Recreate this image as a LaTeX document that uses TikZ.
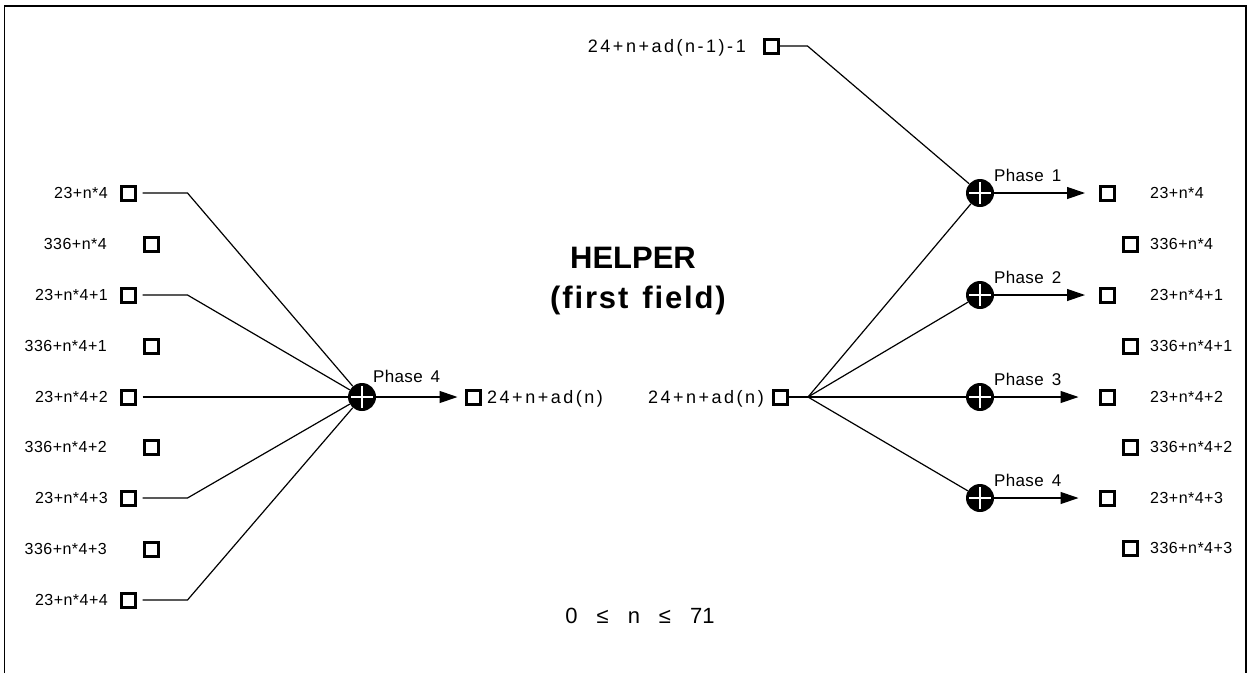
\documentclass[tikz,border=0pt]{standalone}
\usepackage{fontspec}
\setmainfont{Liberation Sans}
\newfontfamily\labfont[LetterSpace=3]{Liberation Sans}
\newfontfamily\phfont[LetterSpace=2]{Liberation Sans}
\newfontfamily\bigfont[LetterSpace=14]{Liberation Sans}
\newfontfamily\boldfont[LetterSpace=6]{Liberation Sans Bold}
\usetikzlibrary{arrows.meta}
\tikzset{
  sq/.style={draw, line width=3pt, minimum size=14pt, inner sep=0pt},
  sum/.style={circle, fill=black, minimum size=28pt, inner sep=0pt,
    path picture={\draw[white, line width=2.2pt]
      (path picture bounding box.center) +(-11pt,0pt) -- +(11pt,0pt)
      (path picture bounding box.center) +(0pt,-11pt) -- +(0pt,11pt);}},
  lab/.style={font=\labfont\fontsize{16}{18}\selectfont, inner sep=0pt, text height=11.4pt, text depth=0pt},
  biglab/.style={font=\bigfont\fontsize{18}{20}\selectfont, inner sep=0pt, text height=12.9pt, text depth=0pt},
  phase/.style={font=\phfont\fontsize{17}{19}\selectfont, inner sep=0pt, anchor=base west},
  wire/.style={line width=1.2pt},
  arr/.style={line width=1.2pt, -{Triangle[length=18pt,width=12pt]}},
  frame/.style={line width=1.5pt}
}
\begin{document}
\begin{tikzpicture}[x=1pt,y=-1pt]
\useasboundingbox (0,0) rectangle (1254,673);
\draw[frame] (4.5,673) -- (4.5,6) -- (1246,6) -- (1246,673);

% left column
\node[sq] (L0) at (128,193) {};
\node[sq] (L1) at (151,244) {};
\node[sq] (L2) at (128,295) {};
\node[sq] (L3) at (151,346) {};
\node[sq] (L4) at (128,397) {};
\node[sq] (L5) at (151,447) {};
\node[sq] (L6) at (128,498) {};
\node[sq] (L7) at (151,549) {};
\node[sq] (L8) at (128,600) {};
\node[lab, anchor=east] (l0) at (108,193) {23+n*4};
\node[lab, anchor=east] (l1) at (107,244) {336+n*4};
\node[lab, anchor=east] (l2) at (108,295) {23+n*4+1};
\node[lab, anchor=east] (l3) at (107,346) {336+n*4+1};
\node[lab, anchor=east] (l4) at (108,397) {23+n*4+2};
\node[lab, anchor=east] (l5) at (107,447) {336+n*4+2};
\node[lab, anchor=east] (l6) at (108,498) {23+n*4+3};
\node[lab, anchor=east] (l7) at (107,549) {336+n*4+3};
\node[lab, anchor=east] (l8) at (108,600) {23+n*4+4};

\node[sum] (S) at (362,397) {};
\node[phase] (pS) at (373,382) {Phase\hspace{8pt}4};
\draw[wire, shorten <=6pt] (L0.east) -- ++(51,0) -- (S);
\draw[wire, shorten <=6pt] (L2.east) -- ++(51,0) -- (S);
\draw[wire, shorten <=6pt] (L4.east) -- (S);
\draw[wire, shorten <=6pt] (L6.east) -- ++(51,0) -- (S);
\draw[wire, shorten <=6pt] (L8.east) -- ++(51,0) -- (S);

\node[sq] (M1) at (473,397) {};
\node[biglab, anchor=west] (m1) at (487,397) {24+n+ad(n)};
\draw[arr, shorten >=7pt] (S) -- (M1);

% center text
\node[font=\fontsize{31}{33}\bfseries\selectfont, inner sep=0pt] (h1) at (633,258) {HELPER};
\node[font=\boldfont\fontsize{31}{33}\selectfont, inner sep=0pt] (h2) at (638,300) {(first\hspace{14pt}field)};
\node[font=\fontsize{22}{25}\selectfont, inner sep=0pt] (rng) at (640,616) {0\hspace{19pt}≤\hspace{19pt}n\hspace{19pt}≤\hspace{19pt}71};

% right side
\node[sq] (M2) at (780,397) {};
\node[biglab, anchor=east] (m2) at (764,397) {24+n+ad(n)};
\coordinate (J) at (808,397);
\draw[wire] (M2.east) -- (J);

\node[sq] (T) at (771,46) {};
\node[biglab, anchor=east] (t) at (746,46) {24+n+ad(n-1)-1};

\node[sum] (C1) at (980,193) {};
\node[sum] (C2) at (980,295) {};
\node[sum] (C3) at (980,397) {};
\node[sum] (C4) at (980,498) {};
\node[phase] (p1) at (994,181) {Phase\hspace{8pt}1};
\node[phase] (p2) at (994,283) {Phase\hspace{8pt}2};
\node[phase] (p3) at (994,385) {Phase\hspace{8pt}3};
\node[phase] (p4) at (994,486) {Phase\hspace{8pt}4};

\draw[wire] (T.east) -- ++(28,0) -- (C1);
\draw[wire] (J) -- (C1);
\draw[wire] (J) -- (C2);
\draw[wire] (J) -- (C3);
\draw[wire] (J) -- (C4);

\node[sq] (R0) at (1107,193) {};
\node[sq] (R1) at (1130,244) {};
\node[sq] (R2) at (1107,295) {};
\node[sq] (R3) at (1130,346) {};
\node[sq] (R4) at (1107,397) {};
\node[sq] (R5) at (1130,447) {};
\node[sq] (R6) at (1107,498) {};
\node[sq] (R7) at (1130,548) {};
\node[lab, anchor=west] (r0) at (1150,193) {23+n*4};
\node[lab, anchor=west] (r1) at (1150,244) {336+n*4};
\node[lab, anchor=west] (r2) at (1150,295) {23+n*4+1};
\node[lab, anchor=west] (r3) at (1150,346) {336+n*4+1};
\node[lab, anchor=west] (r4) at (1150,397) {23+n*4+2};
\node[lab, anchor=west] (r5) at (1150,447) {336+n*4+2};
\node[lab, anchor=west] (r6) at (1150,498) {23+n*4+3};
\node[lab, anchor=west] (r7) at (1150,548) {336+n*4+3};

\draw[arr, shorten >=13.5pt] (C1) -- (R0);
\draw[arr, shorten >=13.5pt] (C2) -- (R2);
\draw[arr, shorten >=20pt] (C3) -- (R4);
\draw[arr, shorten >=20pt] (C4) -- (R6);
\end{tikzpicture}
\end{document}
